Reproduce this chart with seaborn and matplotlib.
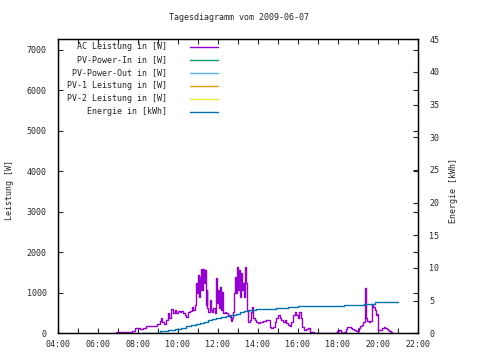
import seaborn as sns
import matplotlib.pyplot as plt
from matplotlib.ticker import MultipleLocator

sns.set_style('white')
plt.rcParams['font.family'] = ['DejaVu Sans Mono']
plt.rcParams['font.size'] = 6.0

# AC Leistung (hour of day, W)
ac_time = [6.9, 7.63, 7.72, 7.85, 8.0, 8.1, 8.25, 8.4, 8.55, 8.7, 8.85, 8.95,
           9.1, 9.15, 9.22, 9.3, 9.4, 9.5, 9.55, 9.65, 9.75, 9.83, 9.9, 10.0,
           10.1, 10.17, 10.25, 10.33, 10.42, 10.5, 10.6, 10.68, 10.77, 10.85,
           10.9, 10.95, 11.0, 11.05, 11.08, 11.12, 11.17, 11.22, 11.25, 11.3,
           11.35, 11.38, 11.43, 11.47, 11.52, 11.58, 11.63, 11.7, 11.77, 11.83,
           11.88, 11.92, 11.97, 12.02, 12.07, 12.12, 12.17, 12.2, 12.25, 12.33,
           12.42, 12.5, 12.58, 12.63, 12.72, 12.77, 12.82, 12.87, 12.92, 12.95,
           13.0, 13.05, 13.1, 13.15, 13.18, 13.23, 13.28, 13.33, 13.38, 13.43,
           13.5, 13.58, 13.65, 13.72, 13.77, 13.83, 13.92, 14.02, 14.1, 14.25,
           14.4, 14.5, 14.58, 14.67, 14.75, 14.83, 14.92, 15.0, 15.08, 15.17,
           15.25, 15.33, 15.42, 15.5, 15.58, 15.67, 15.75, 15.83, 15.92, 16.0,
           16.07, 16.15, 16.22, 16.3, 16.4, 16.5, 16.6, 16.7, 16.8, 17.97,
           18.05, 18.13, 18.22, 18.3, 18.38, 18.47, 18.55, 18.63, 18.72, 18.8,
           18.88, 18.97, 19.05, 19.12, 19.2, 19.27, 19.33, 19.38, 19.42, 19.47,
           19.55, 19.62, 19.68, 19.72, 19.77, 19.83, 19.88, 19.93, 19.98, 20.05,
           20.12, 20.2, 20.28, 20.35, 20.43, 20.5, 20.57, 20.63, 20.7]
ac_watt = [20, 20, 60, 130, 140, 110, 140, 170, 170, 180, 190, 230,
           300, 370, 290, 230, 330, 490, 370, 590, 510, 570, 490, 540,
           520, 560, 490, 450, 410, 530, 540, 660, 570, 700,
           1230, 990, 1440, 900, 1400, 1070, 1580, 1070, 1590, 1230,
           1560, 700, 1070, 620, 530, 820, 570, 530, 620, 490,
           990, 1360, 740, 1070, 620, 1150, 570, 1030, 490, 530,
           490, 450, 410, 310, 370, 530, 990, 1400, 990, 1640,
           1070, 1560, 900, 1480, 1070, 1230, 900, 1640, 1230, 570,
           290, 330, 530, 660, 370, 320, 290, 260, 290, 310,
           340, 320, 160, 120, 160, 290, 370, 450, 370, 330,
           290, 330, 260, 200, 170, 290, 450, 530, 450, 370,
           530, 370, 150, 80, 100, 120, 40, 20, 0, 60,
           90, 40, 0, 20, 110, 150, 160, 130, 100, 70,
           50, 60, 120, 170, 200, 280, 1110, 1060, 370, 310,
           290, 300, 320, 720, 640, 570, 450, 480, 80, 80,
           90, 140, 150, 130, 100, 90, 50, 20, 0]

# Energie (hour of day, kWh)
energy_time = [8.18, 9.1, 9.5, 9.85, 10.15, 10.4, 10.65, 10.9, 11.1, 11.3,
               11.5, 11.7, 11.9, 12.15, 12.4, 12.65, 12.9, 13.1, 13.3, 13.55,
               13.9, 14.3, 14.9, 15.5, 16.0, 18.3, 19.3, 19.85, 21.02]
energy_kwh = [0.1, 0.35, 0.5, 0.65, 0.85, 1.05, 1.2, 1.4, 1.6, 1.8,
              2.0, 2.2, 2.35, 2.5, 2.65, 2.8, 3.0, 3.2, 3.4, 3.55,
              3.65, 3.75, 3.85, 3.95, 4.15, 4.3, 4.5, 4.77, 4.77]

hour_ticks = [4, 6, 8, 10, 12, 14, 16, 18, 20, 22]
hour_labels = ['04:00', '06:00', '08:00', '10:00', '12:00', '14:00',
               '16:00', '18:00', '20:00', '22:00']

legend_names = ['AC Leistung in [W]', 'PV-Power-In in [W]', 'PV-Power-Out in [W]',
                'PV-1 Leistung in [W]', 'PV-2 Leistung in [W]', 'Energie in [kWh]']
legend_colors = ['#9400d3', '#009e73', '#56b4e9', '#e69f00', '#f0e442', '#0072b2']

fig = plt.figure(figsize=(4.8, 3.6), dpi=100)
ax = fig.add_axes([0.1208, 0.0742, 0.75, 0.8167])
ax2 = ax.twinx()

sns.lineplot(x=ac_time, y=ac_watt, ax=ax, color=legend_colors[0], lw=1.0,
             drawstyle='steps-post', sort=False)
sns.lineplot(x=energy_time, y=energy_kwh, ax=ax2, color=legend_colors[5], lw=1.0,
             drawstyle='steps-post', sort=False)

ax.set_xlim(4, 22)
ax.set_xticks(hour_ticks)
ax.set_xticklabels(hour_labels)
ax.xaxis.set_minor_locator(MultipleLocator(1))
ax.set_ylim(0, 7260)
ax.set_yticks(range(0, 8000, 1000))
ax.tick_params(axis='x', which='both', direction='in', top=True, bottom=True,
               length=3.5, width=0.8, pad=5)
ax.tick_params(axis='y', direction='in', left=True, right=True,
               length=3.5, width=0.8, pad=8)

ax2.set_ylim(0, 45)
ax2.set_yticks(range(0, 50, 5))
ax2.tick_params(axis='y', direction='in', right=True, length=3.5, width=0.8, pad=8)

for a in (ax, ax2):
    a.set_xlabel('')
    a.set_ylabel('')
    for s in a.spines.values():
        s.set_linewidth(0.9)
        s.set_color('black')

# legend, gnuplot style: right-aligned text with sample line after it
for i, (name, col) in enumerate(zip(legend_names, legend_colors)):
    y = 0.974 - i * 0.0442
    ax2.text(0.303, y, name, transform=ax2.transAxes, ha='right', va='center')
    ax2.plot([0.367, 0.444], [y, y], transform=ax2.transAxes, color=col, lw=1.0)

fig.text(0.497, 1 - 18 / 360, 'Tagesdiagramm vom 2009-06-07', ha='center', va='center')
fig.text(10 / 480, 0.472, 'Leistung [W]', rotation=90, ha='center', va='center')
fig.text(453 / 480, 0.472, 'Energie [kWh]', rotation=90, ha='center', va='center')

fig.savefig('out.png', dpi=100)
